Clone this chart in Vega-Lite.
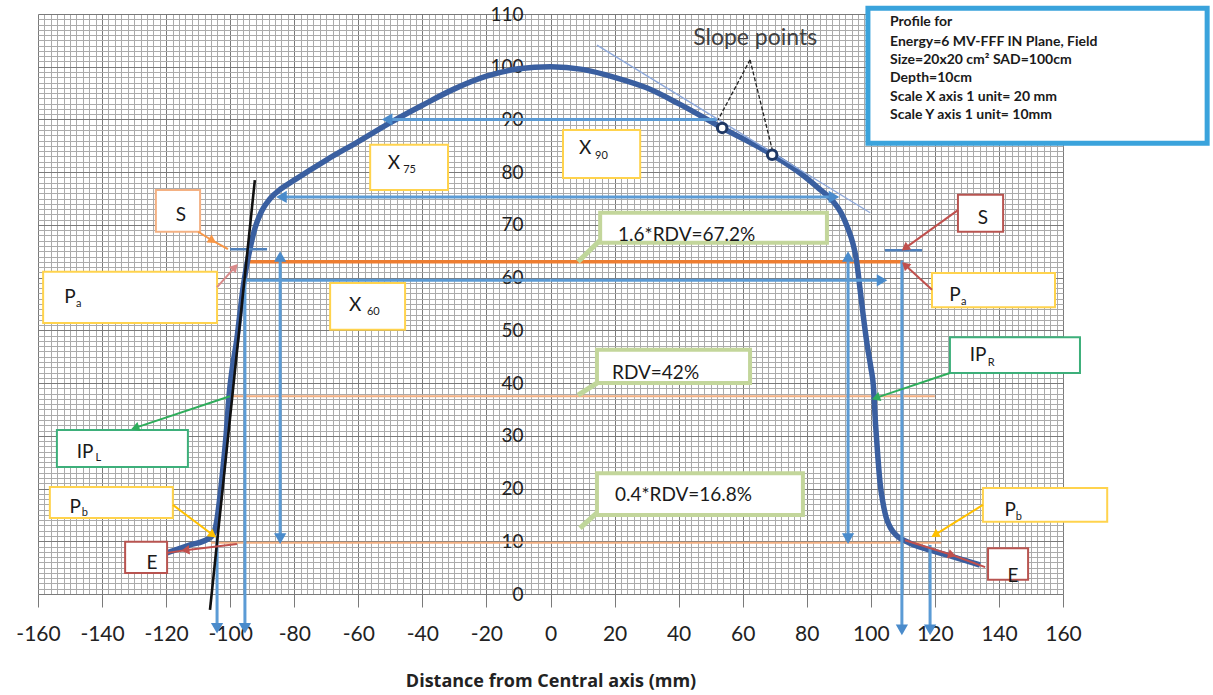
{
  "$schema": "https://vega.github.io/schema/vega-lite/v6.json",
  "width": 1025,
  "height": 580,
  "autosize": {"type": "none"},
  "padding": {"left": 38, "top": 14, "right": 150, "bottom": 101},
  "background": "white",
  "config": {"view": {"stroke": null}},
  "datasets": {
    "profile": [
      {"x": -119.7, "y": 7.8}, {"x": -112.5, "y": 9.3}, {"x": -107, "y": 10.4}, {"x": -105.4, "y": 11.2},
      {"x": -104.3, "y": 13.5}, {"x": -103.3, "y": 18}, {"x": -102.4, "y": 23}, {"x": -101.3, "y": 30},
      {"x": -100.3, "y": 38}, {"x": -99.3, "y": 43}, {"x": -98, "y": 48}, {"x": -97, "y": 53},
      {"x": -96, "y": 58}, {"x": -95, "y": 61.8}, {"x": -93.8, "y": 65.5}, {"x": -92.2, "y": 69.5},
      {"x": -90.2, "y": 72.6}, {"x": -87.5, "y": 75}, {"x": -84, "y": 76.9}, {"x": -80, "y": 78.5},
      {"x": -70, "y": 82.3}, {"x": -60, "y": 85.8}, {"x": -50, "y": 89.4}, {"x": -40, "y": 92.7},
      {"x": -30, "y": 95.8}, {"x": -20, "y": 98.2}, {"x": -10, "y": 99.6}, {"x": 0, "y": 100},
      {"x": 10, "y": 99.5}, {"x": 20, "y": 98.0}, {"x": 30, "y": 96.0}, {"x": 40, "y": 93},
      {"x": 53.6, "y": 88.4}, {"x": 69.2, "y": 83.3}, {"x": 78, "y": 79.8}, {"x": 84, "y": 76.8},
      {"x": 88, "y": 74.6}, {"x": 90.8, "y": 72.2}, {"x": 92.8, "y": 69.4}, {"x": 94.4, "y": 66.5},
      {"x": 95.6, "y": 63}, {"x": 96.6, "y": 58}, {"x": 97.6, "y": 53}, {"x": 98.8, "y": 47.5},
      {"x": 100, "y": 43}, {"x": 100.8, "y": 39.5}, {"x": 101.5, "y": 32}, {"x": 102.2, "y": 26},
      {"x": 102.9, "y": 21}, {"x": 103.8, "y": 17.3}, {"x": 104.8, "y": 14.5}, {"x": 106.2, "y": 12.5},
      {"x": 108.2, "y": 11}, {"x": 111.3, "y": 9.9}, {"x": 118.5, "y": 8.3}, {"x": 126, "y": 7},
      {"x": 134.1, "y": 5.5}
    ],
    "segs": [
      {"x": 52, "y": 90, "x2": -51, "y2": 90, "kind": "blue", "head": true},
      {"x": 0, "y": 75.3, "x2": -84, "y2": 75.3, "kind": "blue", "head": true},
      {"x": 0, "y": 75.3, "x2": 88.5, "y2": 75.3, "kind": "blue", "head": true},
      {"x": 0, "y": 59.5, "x2": 103.5, "y2": 59.5, "kind": "blue", "head": true},
      {"x": 0, "y": 59.5, "x2": -96, "y2": 59.5, "kind": "blue", "head": false},
      {"x": -84.4, "y": 37, "x2": -84.4, "y2": 64, "kind": "blue", "head": true},
      {"x": -84.4, "y": 37, "x2": -84.4, "y2": 10.5, "kind": "blue", "head": true},
      {"x": 92.9, "y": 37, "x2": 92.9, "y2": 64, "kind": "blue", "head": true},
      {"x": 92.9, "y": 37, "x2": 92.9, "y2": 10.5, "kind": "blue", "head": true},
      {"x": -104.1, "y": 10.8, "x2": -104.1, "y2": -6.5, "kind": "blue", "head": true},
      {"x": -95.4, "y": 60, "x2": -95.4, "y2": -6.5, "kind": "blue", "head": true},
      {"x": 109.7, "y": 63.3, "x2": 109.7, "y2": -6.8, "kind": "blue", "head": true},
      {"x": 118.5, "y": 9.3, "x2": 118.5, "y2": -6.8, "kind": "blue", "head": true},
      {"x": -94.7, "y": 63, "x2": 110.1, "y2": 63, "kind": "orange", "head": false},
      {"x": -101, "y": 37.5, "x2": 120, "y2": 37.5, "kind": "orangethin", "head": false},
      {"x": -106, "y": 9.7, "x2": 122, "y2": 9.7, "kind": "orangethin", "head": false},
      {"x": -106.3, "y": -3, "x2": -92.3, "y2": 78.5, "kind": "black", "head": false},
      {"x": 14.5, "y": 104.1, "x2": 99.8, "y2": 72.3, "kind": "gray", "head": false},
      {"x": -100, "y": 65.4, "x2": -88.5, "y2": 65.4, "kind": "blueS", "head": false},
      {"x": 104.4, "y": 65.2, "x2": 116, "y2": 65.2, "kind": "blueS", "head": false},
      {"x": 62.3, "y": 101.3, "x2": 52.3, "y2": 89.9, "kind": "dash", "head": false},
      {"x": 62.3, "y": 101.3, "x2": 69.5, "y2": 83.6, "kind": "dash", "head": false},
      {"x": 15.5, "y": 67.1, "x2": 8.6, "y2": 63.0, "kind": "lgreen", "head": false},
      {"x": 14.5, "y": 40, "x2": 8.6, "y2": 37.7, "kind": "lgreen", "head": false},
      {"x": 14.5, "y": 15.4, "x2": 9.2, "y2": 12.5, "kind": "lgreen", "head": false},
      {"x": -110, "y": 68.7, "x2": -105.5, "y2": 67, "kind": "orangeL", "head": true},
      {"x": -105.5, "y": 67, "x2": -100.7, "y2": 65.4, "kind": "orangeL", "head": false},
      {"x": -104.1, "y": 58.2, "x2": -98.5, "y2": 62, "kind": "pink", "head": true},
      {"x": 127.2, "y": 72.8, "x2": 110.7, "y2": 65.6, "kind": "red", "head": true},
      {"x": 119.1, "y": 57.7, "x2": 110.7, "y2": 62.4, "kind": "red", "head": true},
      {"x": 124.7, "y": 41.9, "x2": 101.6, "y2": 37.2, "kind": "green", "head": true},
      {"x": -100.1, "y": 37.5, "x2": -129.7, "y2": 31.5, "kind": "green", "head": true},
      {"x": -117.9, "y": 16.9, "x2": -105.4, "y2": 11.2, "kind": "yellow", "head": true},
      {"x": 135, "y": 16.9, "x2": 120, "y2": 11.2, "kind": "yellow", "head": true},
      {"x": -97.9, "y": 9.5, "x2": -114, "y2": 8.3, "kind": "red", "head": true},
      {"x": -114, "y": 8.3, "x2": -119.7, "y2": 7.8, "kind": "red", "head": false},
      {"x": 110.7, "y": 10.2, "x2": 125.4, "y2": 7.4, "kind": "red", "head": true},
      {"x": 125.4, "y": 7.4, "x2": 135.7, "y2": 5.1, "kind": "red", "head": false}
    ],
    "boxes": [
      {"x": -123.2, "x2": -109.4, "y": 76.6, "y2": 68.7, "kind": "orange"},
      {"x": -158.4, "x2": -104.1, "y": 61.1, "y2": 51.4, "kind": "yellow"},
      {"x": -56.3, "x2": -32.0, "y": 85.2, "y2": 76.6, "kind": "yellow"},
      {"x": 3.9, "x2": 28.0, "y": 88.0, "y2": 78.9, "kind": "yellow"},
      {"x": -68.8, "x2": -45.4, "y": 59.0, "y2": 50.1, "kind": "yellow"},
      {"x": 127.2, "x2": 141.3, "y": 75.7, "y2": 68.7, "kind": "red"},
      {"x": 119.1, "x2": 157.5, "y": 60.9, "y2": 54.4, "kind": "yellow"},
      {"x": 124.7, "x2": 165.3, "y": 48.7, "y2": 41.9, "kind": "green"},
      {"x": -154.1, "x2": -113.2, "y": 31.1, "y2": 24.1, "kind": "green"},
      {"x": -156.3, "x2": -117.9, "y": 20.3, "y2": 14.4, "kind": "yellow"},
      {"x": -132.8, "x2": -119.7, "y": 9.9, "y2": 4.0, "kind": "red"},
      {"x": 135.0, "x2": 173.8, "y": 20.1, "y2": 13.7, "kind": "yellow"},
      {"x": 136.6, "x2": 149.1, "y": 8.7, "y2": 2.7, "kind": "red"},
      {"x": 15.5, "x2": 86.3, "y": 72.3, "y2": 66.6, "kind": "rdv"},
      {"x": 14.5, "x2": 62.3, "y": 46.3, "y2": 40.0, "kind": "rdv"},
      {"x": 14.5, "x2": 78.8, "y": 22.9, "y2": 15.0, "kind": "rdv"},
      {"x": 99.1, "x2": 205.0, "y": 111.1, "y2": 85.5, "kind": "info"}
    ],
    "slope": [{"x": 53.6, "y": 88.4}, {"x": 69.2, "y": 83.3}],
    "texts": [
      {"x": -115.4, "y": 71.9, "text": "S", "kind": "lab"},
      {"x": -150, "y": 56.3, "text": "P", "kind": "lab"},
      {"x": -48.9, "y": 81.7, "text": "X", "kind": "lab"},
      {"x": 10.8, "y": 84.6, "text": "X", "kind": "lab"},
      {"x": -61, "y": 54.8, "text": "X", "kind": "lab"},
      {"x": 135, "y": 71.3, "text": "S", "kind": "lab"},
      {"x": 126.3, "y": 56.7, "text": "P", "kind": "lab"},
      {"x": 133.5, "y": 45.3, "text": "IP", "kind": "lab"},
      {"x": -145.3, "y": 26.9, "text": "IP", "kind": "lab"},
      {"x": -148.4, "y": 16.5, "text": "P", "kind": "lab"},
      {"x": -124.4, "y": 5.9, "text": "E", "kind": "lab"},
      {"x": 143.5, "y": 15.9, "text": "P", "kind": "lab"},
      {"x": 144.4, "y": 3.4, "text": "E", "kind": "lab"},
      {"x": -147.3, "y": 55.0, "text": "a", "kind": "sub"},
      {"x": -44.0, "y": 80.4, "text": "75", "kind": "sub"},
      {"x": 15.9, "y": 83.1, "text": "90", "kind": "sub"},
      {"x": -55.3, "y": 53.5, "text": "60", "kind": "sub"},
      {"x": 129.0, "y": 55.4, "text": "a", "kind": "sub"},
      {"x": 137.6, "y": 43.8, "text": "R", "kind": "sub"},
      {"x": -141.2, "y": 25.8, "text": "L", "kind": "sub"},
      {"x": -145.4, "y": 15.4, "text": "b", "kind": "sub"},
      {"x": 146.2, "y": 14.6, "text": "b", "kind": "sub"},
      {"x": 21.1, "y": 68.1, "text": "1.6*RDV=67.2%", "kind": "rdv"},
      {"x": 19.2, "y": 41.9, "text": "RDV=42%", "kind": "rdv"},
      {"x": 20.1, "y": 18.8, "text": "0.4*RDV=16.8%", "kind": "rdv"},
      {"x": 63.9, "y": 105.4, "text": "Slope points", "kind": "slope"},
      {"x": 106.0, "y": 108.5, "text": "Profile for", "kind": "info"},
      {"x": 106.0, "y": 104.7, "text": "Energy=6 MV-FFF IN Plane, Field", "kind": "info"},
      {"x": 106.0, "y": 101.3, "text": "Size=20x20 cm² SAD=100cm", "kind": "info"},
      {"x": 106.0, "y": 97.9, "text": "Depth=10cm", "kind": "info"},
      {"x": 106.0, "y": 94.3, "text": "Scale X axis 1 unit= 20 mm", "kind": "info"},
      {"x": 106.0, "y": 90.8, "text": "Scale Y axis 1 unit= 10mm", "kind": "info"}
    ]
  },
  "layer": [
    {
      "data": {"name": "segs"},
      "transform": [{"filter": "datum.kind === 'orangethin'"}],
      "mark": {"type": "rule", "strokeWidth": 2, "color": "#F4B183"},
      "encoding": {
        "x": {
          "field": "x", "type": "quantitative",
          "scale": {"domain": [-160, 160], "nice": false, "zero": false},
          "axis": {
            "title": "Distance from Central axis (mm)",
            "titleFont": "Open Sans", "titleFontWeight": "bold", "titleFontSize": 18, "titleColor": "#222222", "titlePadding": 28,
            "tickCount": 160,
            "grid": true,
            "gridColor": {"condition": {"test": "datum.value % 20 === 0", "value": "#7a7a7a"}, "value": "#ababab"},
            "gridWidth": 1,
            "domain": false,
            "ticks": true, "tickSize": 13, "tickColor": "#7a7a7a",
            "tickOpacity": {"condition": {"test": "datum.value % 20 === 0", "value": 1}, "value": 0},
            "labelExpr": "datum.value % 20 === 0 ? replace(datum.label, '−', '-') : ''",
            "labelOverlap": false, "labelFlush": false,
            "labelFont": "Lato", "labelFontSize": 21, "labelColor": "#222222", "labelPadding": 16
          }
        },
        "y": {
          "field": "y", "type": "quantitative",
          "scale": {"domain": [0, 110], "nice": false, "zero": false},
          "axis": {
            "title": null,
            "orient": "left",
            "offset": -510,
            "tickCount": 110,
            "grid": true,
            "gridColor": {"condition": {"test": "datum.value % 10 === 0", "value": "#7a7a7a"}, "value": "#ababab"},
            "gridWidth": 1,
            "domain": false,
            "ticks": false,
            "labelExpr": "datum.value % 10 === 0 ? datum.label : ''",
            "labelOverlap": false, "labelFlush": false,
            "labelFont": "Lato", "labelFontSize": 19, "labelColor": "#222222", "labelPadding": 25
          }
        },
        "x2": {"field": "x2"},
        "y2": {"field": "y2"}
      }
    },
    {
      "data": {"name": "segs"},
      "transform": [{"filter": "datum.kind === 'orange'"}],
      "mark": {"type": "rule", "strokeWidth": 3.5, "color": "#ED7D31"},
      "encoding": {"x": {"field": "x", "type": "quantitative"}, "y": {"field": "y", "type": "quantitative"}, "x2": {"field": "x2"}, "y2": {"field": "y2"}}
    },
    {
      "data": {"name": "profile"},
      "mark": {"type": "line", "strokeWidth": 5.5, "color": "#3A5FA0", "interpolate": "monotone"},
      "encoding": {"x": {"field": "x", "type": "quantitative"}, "y": {"field": "y", "type": "quantitative"}}
    },
    {
      "data": {"name": "segs"},
      "transform": [{"filter": "datum.kind === 'blue'"}],
      "mark": {"type": "rule", "strokeWidth": 3, "color": "#5B9BD5"},
      "encoding": {"x": {"field": "x", "type": "quantitative"}, "y": {"field": "y", "type": "quantitative"}, "x2": {"field": "x2"}, "y2": {"field": "y2"}}
    },
    {
      "data": {"name": "segs"},
      "transform": [
        {"filter": "datum.kind === 'blue' && datum.head === true"},
        {"calculate": "atan2((datum.x2 - datum.x) * 3.203, (datum.y2 - datum.y) * 5.273) * 180 / PI", "as": "ang"}
      ],
      "mark": {"type": "point", "shape": "triangle-up", "filled": true, "size": 150, "opacity": 1, "color": "#4A8BCB"},
      "encoding": {"x": {"field": "x2", "type": "quantitative"}, "y": {"field": "y2", "type": "quantitative"}, "angle": {"field": "ang", "type": "quantitative", "scale": null}}
    },
    {
      "data": {"name": "segs"},
      "transform": [{"filter": "datum.kind === 'blueS'"}],
      "mark": {"type": "rule", "strokeWidth": 2.5, "color": "#4F81BD"},
      "encoding": {"x": {"field": "x", "type": "quantitative"}, "y": {"field": "y", "type": "quantitative"}, "x2": {"field": "x2"}, "y2": {"field": "y2"}}
    },
    {
      "data": {"name": "segs"},
      "transform": [{"filter": "datum.kind === 'black'"}],
      "mark": {"type": "rule", "strokeWidth": 2.6, "color": "#111111"},
      "encoding": {"x": {"field": "x", "type": "quantitative"}, "y": {"field": "y", "type": "quantitative"}, "x2": {"field": "x2"}, "y2": {"field": "y2"}}
    },
    {
      "data": {"name": "segs"},
      "transform": [{"filter": "datum.kind === 'gray'"}],
      "mark": {"type": "rule", "strokeWidth": 1.3, "color": "#8EA9DB"},
      "encoding": {"x": {"field": "x", "type": "quantitative"}, "y": {"field": "y", "type": "quantitative"}, "x2": {"field": "x2"}, "y2": {"field": "y2"}}
    },
    {
      "data": {"name": "boxes"},
      "transform": [{"filter": "datum.kind !== 'rdv' && datum.kind !== 'info'"}],
      "mark": {"type": "rect", "fill": "white", "strokeWidth": 2},
      "encoding": {
        "x": {"field": "x", "type": "quantitative"}, "x2": {"field": "x2"},
        "y": {"field": "y", "type": "quantitative"}, "y2": {"field": "y2"},
        "stroke": {"field": "kind", "type": "nominal", "scale": {"domain": ["yellow", "orange", "red", "green", "rdv", "info"], "range": ["#FFD34D", "#F4B183", "#B85450", "#3DAF7A", "#C3D69B", "#3AA3DC"]}, "legend": null}
      }
    },
    {
      "data": {"name": "segs"},
      "transform": [{"filter": "datum.kind === 'lgreen'"}],
      "mark": {"type": "rule", "strokeWidth": 5, "color": "#BFD69A"},
      "encoding": {"x": {"field": "x", "type": "quantitative"}, "y": {"field": "y", "type": "quantitative"}, "x2": {"field": "x2"}, "y2": {"field": "y2"}}
    },
    {
      "data": {"name": "boxes"},
      "transform": [{"filter": "datum.kind === 'rdv'"}],
      "mark": {"type": "rect", "fill": "white", "strokeWidth": 4},
      "encoding": {
        "x": {"field": "x", "type": "quantitative"}, "x2": {"field": "x2"},
        "y": {"field": "y", "type": "quantitative"}, "y2": {"field": "y2"},
        "stroke": {"field": "kind", "type": "nominal", "scale": {"domain": ["yellow", "orange", "red", "green", "rdv", "info"], "range": ["#FFD34D", "#F4B183", "#B85450", "#3DAF7A", "#C3D69B", "#3AA3DC"]}, "legend": null}
      }
    },
    {
      "data": {"name": "segs"},
      "transform": [{"filter": "datum.kind === 'red' || datum.kind === 'yellow' || datum.kind === 'green' || datum.kind === 'orangeL' || datum.kind === 'pink'"}],
      "mark": {"type": "rule", "strokeWidth": 2},
      "encoding": {
        "x": {"field": "x", "type": "quantitative"}, "y": {"field": "y", "type": "quantitative"}, "x2": {"field": "x2"}, "y2": {"field": "y2"},
        "color": {"field": "kind", "type": "nominal", "scale": {"domain": ["red", "yellow", "green", "orangeL", "pink"], "range": ["#C0504D", "#FFC000", "#2EAD5B", "#F79646", "#D98A8A"]}, "legend": null}
      }
    },
    {
      "data": {"name": "segs"},
      "transform": [
        {"filter": "datum.head === true && datum.kind !== 'blue'"},
        {"calculate": "atan2((datum.x2 - datum.x) * 3.203, (datum.y2 - datum.y) * 5.273) * 180 / PI", "as": "ang"}
      ],
      "mark": {"type": "point", "shape": "triangle-up", "filled": true, "size": 90, "opacity": 1},
      "encoding": {
        "x": {"field": "x2", "type": "quantitative"}, "y": {"field": "y2", "type": "quantitative"},
        "angle": {"field": "ang", "type": "quantitative", "scale": null},
        "color": {"field": "kind", "type": "nominal", "scale": {"domain": ["red", "yellow", "green", "orangeL", "pink"], "range": ["#C0504D", "#FFC000", "#2EAD5B", "#F79646", "#D9534F"]}, "legend": null}
      }
    },
    {
      "data": {"name": "segs"},
      "transform": [{"filter": "datum.kind === 'dash'"}],
      "mark": {"type": "rule", "strokeWidth": 1.3, "color": "#222222", "strokeDash": [4, 2]},
      "encoding": {"x": {"field": "x", "type": "quantitative"}, "y": {"field": "y", "type": "quantitative"}, "x2": {"field": "x2"}, "y2": {"field": "y2"}}
    },
    {
      "data": {"name": "slope"},
      "mark": {"type": "point", "shape": "circle", "filled": true, "fill": "white", "stroke": "#1F3864", "strokeWidth": 3, "size": 90, "opacity": 1},
      "encoding": {"x": {"field": "x", "type": "quantitative"}, "y": {"field": "y", "type": "quantitative"}}
    },
    {
      "data": {"name": "texts"},
      "transform": [{"filter": "datum.kind === 'lab'"}],
      "mark": {"type": "text", "font": "Lato", "fontSize": 19, "color": "#1a1a1a", "align": "center", "baseline": "middle"},
      "encoding": {"x": {"field": "x", "type": "quantitative"}, "y": {"field": "y", "type": "quantitative"}, "text": {"field": "text"}}
    },
    {
      "data": {"name": "texts"},
      "transform": [{"filter": "datum.kind === 'sub'"}],
      "mark": {"type": "text", "font": "Lato", "fontSize": 11, "color": "#1a1a1a", "align": "center", "baseline": "middle"},
      "encoding": {"x": {"field": "x", "type": "quantitative"}, "y": {"field": "y", "type": "quantitative"}, "text": {"field": "text"}}
    },
    {
      "data": {"name": "texts"},
      "transform": [{"filter": "datum.kind === 'rdv'"}],
      "mark": {"type": "text", "font": "Lato", "fontSize": 19, "color": "#1a1a1a", "align": "left", "baseline": "middle"},
      "encoding": {"x": {"field": "x", "type": "quantitative"}, "y": {"field": "y", "type": "quantitative"}, "text": {"field": "text"}}
    },
    {
      "data": {"name": "texts"},
      "transform": [{"filter": "datum.kind === 'slope'"}],
      "mark": {"type": "text", "font": "Lato", "fontSize": 23, "color": "#404040", "align": "center", "baseline": "middle"},
      "encoding": {"x": {"field": "x", "type": "quantitative"}, "y": {"field": "y", "type": "quantitative"}, "text": {"field": "text"}}
    },
    {
      "data": {"name": "boxes"},
      "transform": [{"filter": "datum.kind === 'info'"}],
      "mark": {"type": "rect", "fill": "white", "strokeWidth": 5},
      "encoding": {
        "x": {"field": "x", "type": "quantitative"}, "x2": {"field": "x2"},
        "y": {"field": "y", "type": "quantitative"}, "y2": {"field": "y2"},
        "stroke": {"field": "kind", "type": "nominal", "scale": {"domain": ["yellow", "orange", "red", "green", "rdv", "info"], "range": ["#FFD34D", "#F4B183", "#B85450", "#3DAF7A", "#C3D69B", "#3AA3DC"]}, "legend": null}
      }
    },
    {
      "data": {"name": "texts"},
      "transform": [{"filter": "datum.kind === 'info'"}],
      "mark": {"type": "text", "font": "Lato", "fontSize": 14, "fontWeight": "bold", "color": "#1a1a1a", "align": "left", "baseline": "middle"},
      "encoding": {"x": {"field": "x", "type": "quantitative"}, "y": {"field": "y", "type": "quantitative"}, "text": {"field": "text"}}
    }
  ]
}
